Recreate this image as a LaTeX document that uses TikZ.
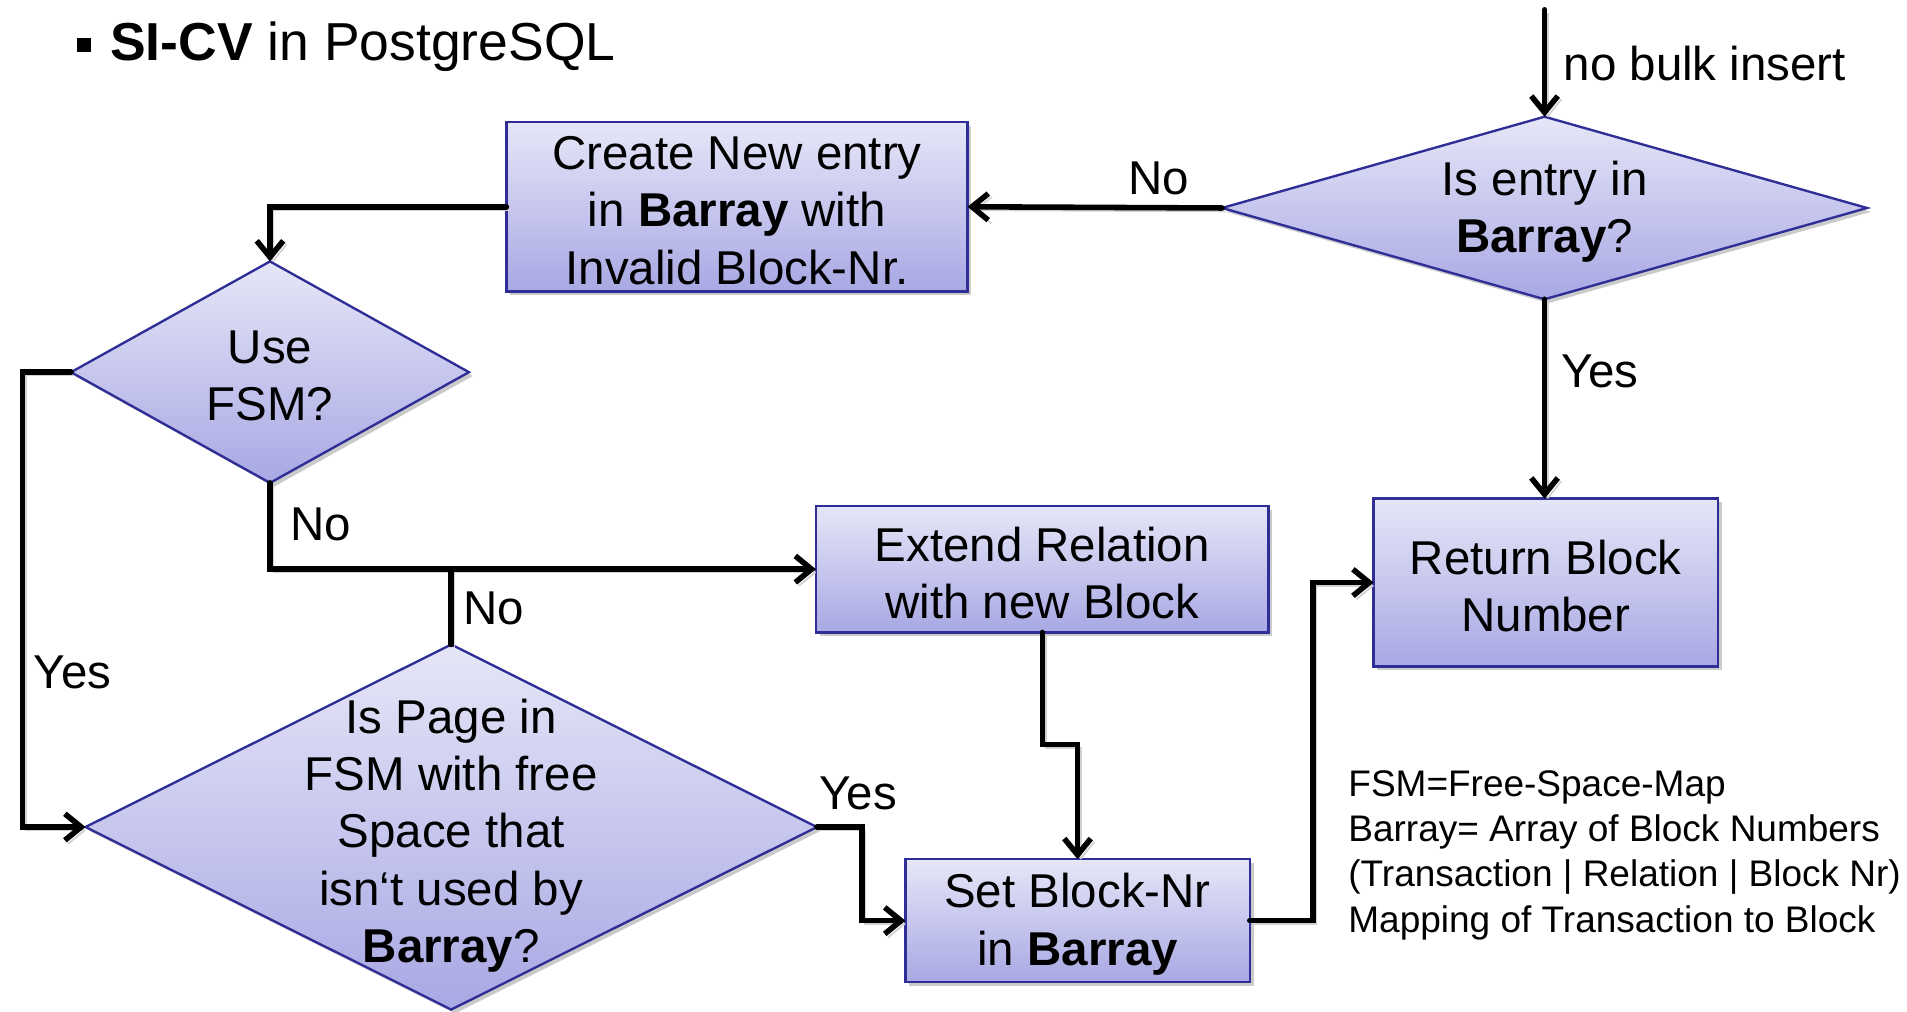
\documentclass[tikz,border=0pt]{standalone}
\usepackage{fontspec}
\setmainfont{Liberation Sans}
\usetikzlibrary{shapes.geometric,arrows.meta,shadows}

\definecolor{boxtop}{RGB}{230,230,248}
\definecolor{boxbot}{RGB}{168,168,228}
\definecolor{boxline}{RGB}{46,46,150}

\begin{document}
\begin{tikzpicture}[x=0.01cm,y=-0.01cm,
  flow/.style={draw=boxline, line width=0.55pt, top color=boxtop, bottom color=boxbot,
    inner sep=0pt, outer sep=0pt,
    drop shadow={shadow xshift=0.9pt, shadow yshift=-0.9pt, opacity=0.35, fill=black!60}},
  procbox/.style={flow, rectangle},
  decision/.style={flow, diamond},
  txt/.style={font=\fontsize{11.1}{13.4}\selectfont, align=center, inner sep=0pt, yshift=-0.03cm},
  lbl/.style={font=\fontsize{11.1}{13.4}\selectfont, inner sep=0pt},
  conn/.style={line width=1.3pt, line cap=round, line join=miter,
    preaction={draw=black!18, transform canvas={shift={(0.8pt,-0.8pt)}}}},
  arr/.style={conn, -{Straight Barb[length=3.8pt, width=6.2pt, line width=1.3pt]}},
]
\useasboundingbox (0,0) rectangle (1568,832);

% heading
\node[fill=black, minimum size=0.12cm, inner sep=0pt] (bullet) at (69,37) {};
\node[anchor=base west, font=\fontsize{12.5}{15}\selectfont, inner sep=0pt] (title)
  at (90,50) {\textbf{SI-CV} in PostgreSQL};

% decisions
\node[decision, minimum width=5.30cm, minimum height=1.50cm] (qentry) at (1270,171) {};
\node[txt] (qentryT) at (qentry.center) {Is entry in\\\textbf{Barray}?};

\node[decision, minimum width=3.27cm, minimum height=1.82cm] (qfsm) at (222,306) {};
\node[txt] (qfsmT) at (qfsm.center) {Use\\FSM?};

\node[decision, minimum width=6.01cm, minimum height=3.00cm] (qpage) at (371,680) {};
\node[txt] (qpageT) at ([yshift=-0.04cm]qpage.center)
  {Is Page in\\FSM with free\\Space that\\isn‘t used by\\\textbf{Barray}?};

% process boxes
\node[procbox, minimum width=3.79cm, minimum height=1.39cm] (create) at (606,170) {};
\node[txt] (createT) at (create.center) {Create New entry\\in \textbf{Barray} with\\Invalid Block-Nr.};
\node[procbox, minimum width=3.72cm, minimum height=1.04cm] (extend) at (857,468) {};
\node[txt] (extendT) at (extend.center) {Extend Relation\\with new Block};
\node[procbox, minimum width=2.83cm, minimum height=1.01cm] (setnr) at (886,757) {};
\node[txt] (setnrT) at (setnr.center) {Set Block-Nr\\in \textbf{Barray}};
\node[procbox, minimum width=2.83cm, minimum height=1.38cm] (ret) at (1271,479) {};
\node[txt] (retT) at (ret.center) {Return Block\\Number};

% connectors
\coordinate (start) at (1270,8);
\draw[arr] (start) -- (qentry.north);
\draw[arr] (qentry.west) -- (create.east);
\draw[arr] (create.west) -| (qfsm.north);
\draw[arr] (qfsm.west) -- ++(-40,0) |- (qpage.west);
\draw[arr] (qfsm.south) |- (extend.west);
\draw[conn] (qpage.north) -- (qpage.north |- extend.west);
\draw[arr] (extend.south) -- ++(0,92) -| (setnr.north);
\draw[arr] (qpage.east) -- ++(37,0) |- (setnr.west);
\draw[arr] (setnr.east) -- ++(52,0) |- (ret.west);
\draw[arr] (qentry.south) -- (qentry.south |- ret.north);

% branch labels
\node[lbl, anchor=west] (lnobulk) at (1285,52) {no bulk insert};
\node[lbl] (lno1) at (953,147) {No};
\node[lbl, anchor=west] (lyes1) at (1283,305) {Yes};
\node[lbl, anchor=west] (lno2) at (238,431) {No};
\node[lbl, anchor=west] (lno3) at (380,500) {No};
\node[lbl, anchor=west] (lyes2) at (27,553) {Yes};
\node[lbl, anchor=west] (lyes3) at (673,652) {Yes};

% legend
\node[anchor=west, align=left, inner sep=0pt, font=\fontsize{8.65}{10.6}\selectfont] (legend)
  at (1108,703)
  {FSM=Free-Space-Map\\Barray= Array of Block Numbers\\(Transaction | Relation | Block Nr)\\Mapping of Transaction to Block};
\end{tikzpicture}
\end{document}
